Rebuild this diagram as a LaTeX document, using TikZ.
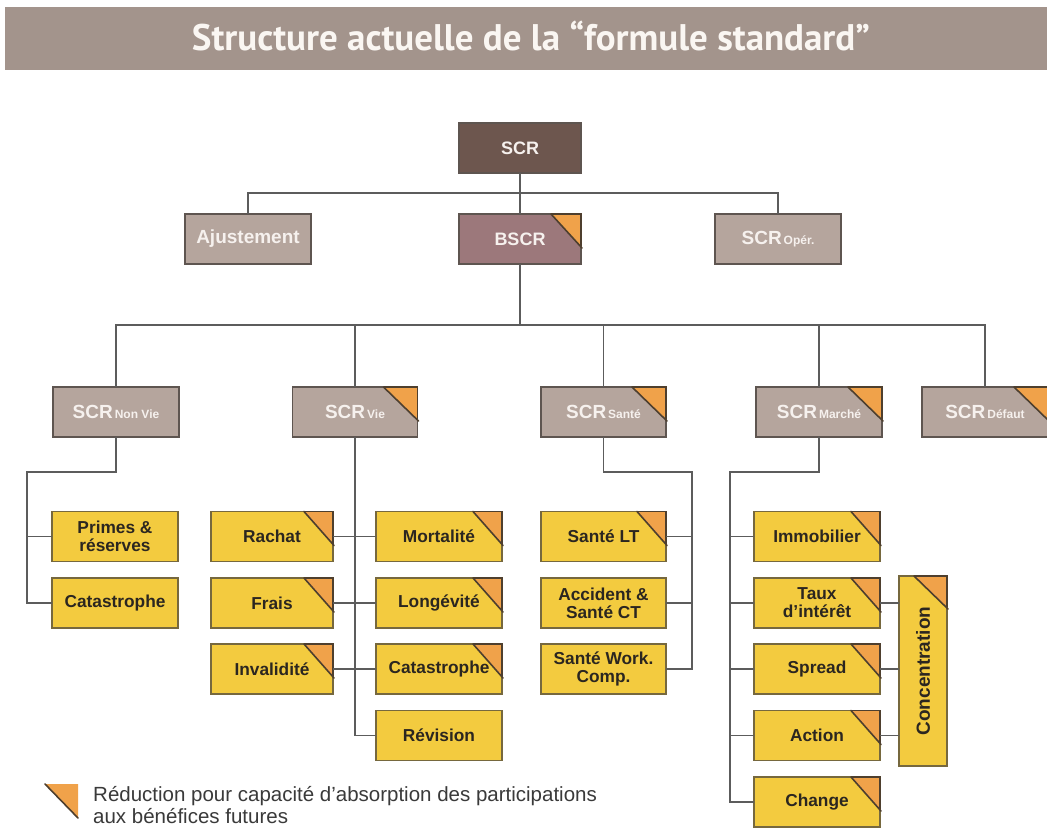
\documentclass[tikz,border=0pt]{standalone}
\usepackage{fontspec}
\setmainfont{Liberation Sans}
\newfontfamily\titlefont{PT Sans}
\usepackage{graphicx}
\definecolor{titlebar}{HTML}{A3948C}
\definecolor{titletext}{HTML}{FAF6F2}
\definecolor{scrdark}{HTML}{6D564E}
\definecolor{bscrc}{HTML}{9C787B}
\definecolor{greyfill}{HTML}{B5A59D}
\definecolor{greyborder}{HTML}{5E5550}
\definecolor{boxwhite}{HTML}{F6F1EE}
\definecolor{yfill}{HTML}{F3CB3F}
\definecolor{yborder}{HTML}{76683E}
\definecolor{ytext}{HTML}{2B2620}
\definecolor{orangec}{HTML}{F0A24A}
\definecolor{cornerdark}{HTML}{4E3F2E}
\definecolor{linegrey}{HTML}{5C5C5C}
\definecolor{legtext}{HTML}{3A3A3A}
\tikzset{
  box/.style={draw=greyborder, line width=1.6pt, minimum height=50pt, inner sep=0pt, outer sep=0pt, align=center},
  greybox/.style={box, fill=greyfill, text=boxwhite, font=\bfseries\fontsize{19}{19}\selectfont, minimum width=126pt},
  ybox/.style={box, draw=yborder, fill=yfill, text=ytext, font=\bfseries\fontsize{17.3}{18}\selectfont, minimum width=126pt},
  conn/.style={draw=linegrey, line width=1.5pt},
  cornerline/.style={draw=cornerdark, line width=1.6pt, line cap=round},
}
\newcommand\subtxt[1]{{\fontsize{12}{12}\selectfont\,#1}}
\newcommand\pcorner[3]{%
  \fill[orangec] ([xshift=-#2pt]#1.north east) -- (#1.north east) -- ([yshift=-#3pt]#1.north east) -- cycle;
  \draw[cornerdark, line width=1.6pt] ([xshift=-#2pt]#1.north east) -- (#1.north east) -- ([yshift=-#3pt]#1.north east);
  \draw[cornerline] ([xshift=-#2pt]#1.north east) -- ([xshift=1pt,yshift=-#3pt-2pt]#1.north east);
}
\begin{document}
\begin{tikzpicture}[x=1pt,y=-1pt]
\fill[white] (0,0) rectangle (1047,828);
\useasboundingbox (0,0) rectangle (1047,828);
% title
\fill[titlebar] (5,7) rectangle (1047,70);
\node[anchor=base, inner sep=0pt, text=titletext, font=\titlefont\bfseries\fontsize{37}{37}\selectfont] (title) at (531,50)
  {\resizebox{678pt}{\height}{Structure actuelle de la “formule standard”}};
% top level
\node[greybox, fill=scrdark, minimum width=122pt, font=\bfseries\fontsize{18}{18}\selectfont] (scr) at (520,148) {SCR};
\node[greybox] (ajust) at (248,239) {Ajustement};
\node[greybox, fill=bscrc, minimum width=122pt, font=\bfseries\fontsize{18}{18}\selectfont] (bscr) at (520,239) {BSCR};
\node[greybox] (oper) at (778,239) {SCR\subtxt{Opér.}};
% second level
\node[greybox] (nonvie) at (116,412) {SCR\subtxt{Non Vie}};
\node[greybox, minimum width=125pt] (vie) at (355,412) {SCR\subtxt{Vie}};
\node[greybox, minimum width=125pt] (sante) at (603.5,412) {SCR\subtxt{Santé}};
\node[greybox] (marche) at (819,412) {SCR\subtxt{Marché}};
\node[greybox] (defaut) at (985,412) {SCR\subtxt{Défaut}};
% Non vie
\node[ybox] (primes) at (115,536.5) {Primes \&\\réserves};
\node[ybox] (catnv) at (115,603) {Catastrophe};
% Vie
\node[ybox, minimum width=122pt] (rachat) at (272,536.5) {Rachat};
\node[ybox, minimum width=122pt] (frais) at (272,603) {Frais};
\node[ybox, minimum width=122pt] (invalid) at (272,669) {Invalidité};
\node[ybox] (mort) at (439,536.5) {Mortalité};
\node[ybox] (longev) at (439,603) {Longévité};
\node[ybox] (catvie) at (439,669) {Catastrophe};
\node[ybox] (revision) at (439,735.5) {Révision};
% Sante
\node[ybox, minimum width=125pt] (santelt) at (603.5,536.5) {Santé LT};
\node[ybox, minimum width=125pt] (accident) at (603.5,603) {Accident \&\\Santé CT};
\node[ybox, minimum width=125pt] (work) at (603.5,669) {Santé Work.\\Comp.};
% Marche
\node[ybox] (immo) at (817,536.5) {Immobilier};
\node[ybox] (taux) at (817,603) {Taux\\d'intérêt};
\node[ybox] (spread) at (817,669) {Spread};
\node[ybox] (action) at (817,735.5) {Action};
\node[ybox] (change) at (817,802) {Change};
\node[ybox, minimum width=48pt, minimum height=190pt, font=\bfseries\fontsize{19}{19}\selectfont] (conc) at (923,671) {\rotatebox{90}{Concentration}};
% corners
\pcorner{bscr}{30}{32}
\pcorner{vie}{34}{32}
\pcorner{sante}{34}{32}
\pcorner{marche}{34}{32}
\pcorner{defaut}{34}{32}
\foreach \n in {rachat,frais,invalid,mort,longev,catvie,santelt,immo,taux,spread,action,change} {\pcorner{\n}{29}{32}}
\pcorner{conc}{33}{31}
% connectors
\coordinate (j1) at (520,193);
\coordinate (j2) at (520,325);
\coordinate (nva) at (27,472);
\coordinate (sa) at (692,472);
\coordinate (ma) at (730,472);
\draw[conn] (scr.south) -- (bscr.north);
\draw[conn] (ajust.north) |- (j1) -| (oper.north);
\draw[conn] (bscr.south) -- (j2);
\draw[conn] (nonvie.north) |- (j2) -| (defaut.north);
\draw[conn] (vie.north) -- (vie.north |- j2);
\draw[conn] (sante.north) -- (sante.north |- j2);
\draw[conn] (marche.north) -- (marche.north |- j2);
% non vie
\draw[conn] (nonvie.south) |- (nva) |- (catnv.west);
\draw[conn] (nva |- primes.west) -- (primes.west);
% vie
\draw[conn] (vie.south) |- (revision.west);
\draw[conn] (rachat.east) -- (mort.west);
\draw[conn] (frais.east) -- (longev.west);
\draw[conn] (invalid.east) -- (catvie.west);
% sante
\draw[conn] (sante.south) |- (sa) |- (work.east);
\draw[conn] (santelt.east) -- (santelt.east -| sa);
\draw[conn] (accident.east) -- (accident.east -| sa);
% marche
\draw[conn] (marche.south) |- (ma) |- (change.west);
\foreach \n in {immo,taux,spread,action} {\draw[conn] (\n.west) -- (\n.west -| ma);}
\foreach \n in {taux,spread,action} {\draw[conn] (\n.east) -- (\n.east -| conc.west);}
% legend
\fill[orangec] (45,784) -- (78,784) -- (78,818) -- cycle;
\draw[cornerline] (45,784) -- (78,818);
\node[anchor=base west, inner sep=0pt, text=legtext, font=\fontsize{20.5}{22}\selectfont] (leg1) at (93,801) {Réduction pour capacité d'absorption des participations};
\node[anchor=base west, inner sep=0pt, text=legtext, font=\fontsize{20.5}{22}\selectfont] (leg2) at (93,823) {aux bénéfices futures};
\end{tikzpicture}
\end{document}
